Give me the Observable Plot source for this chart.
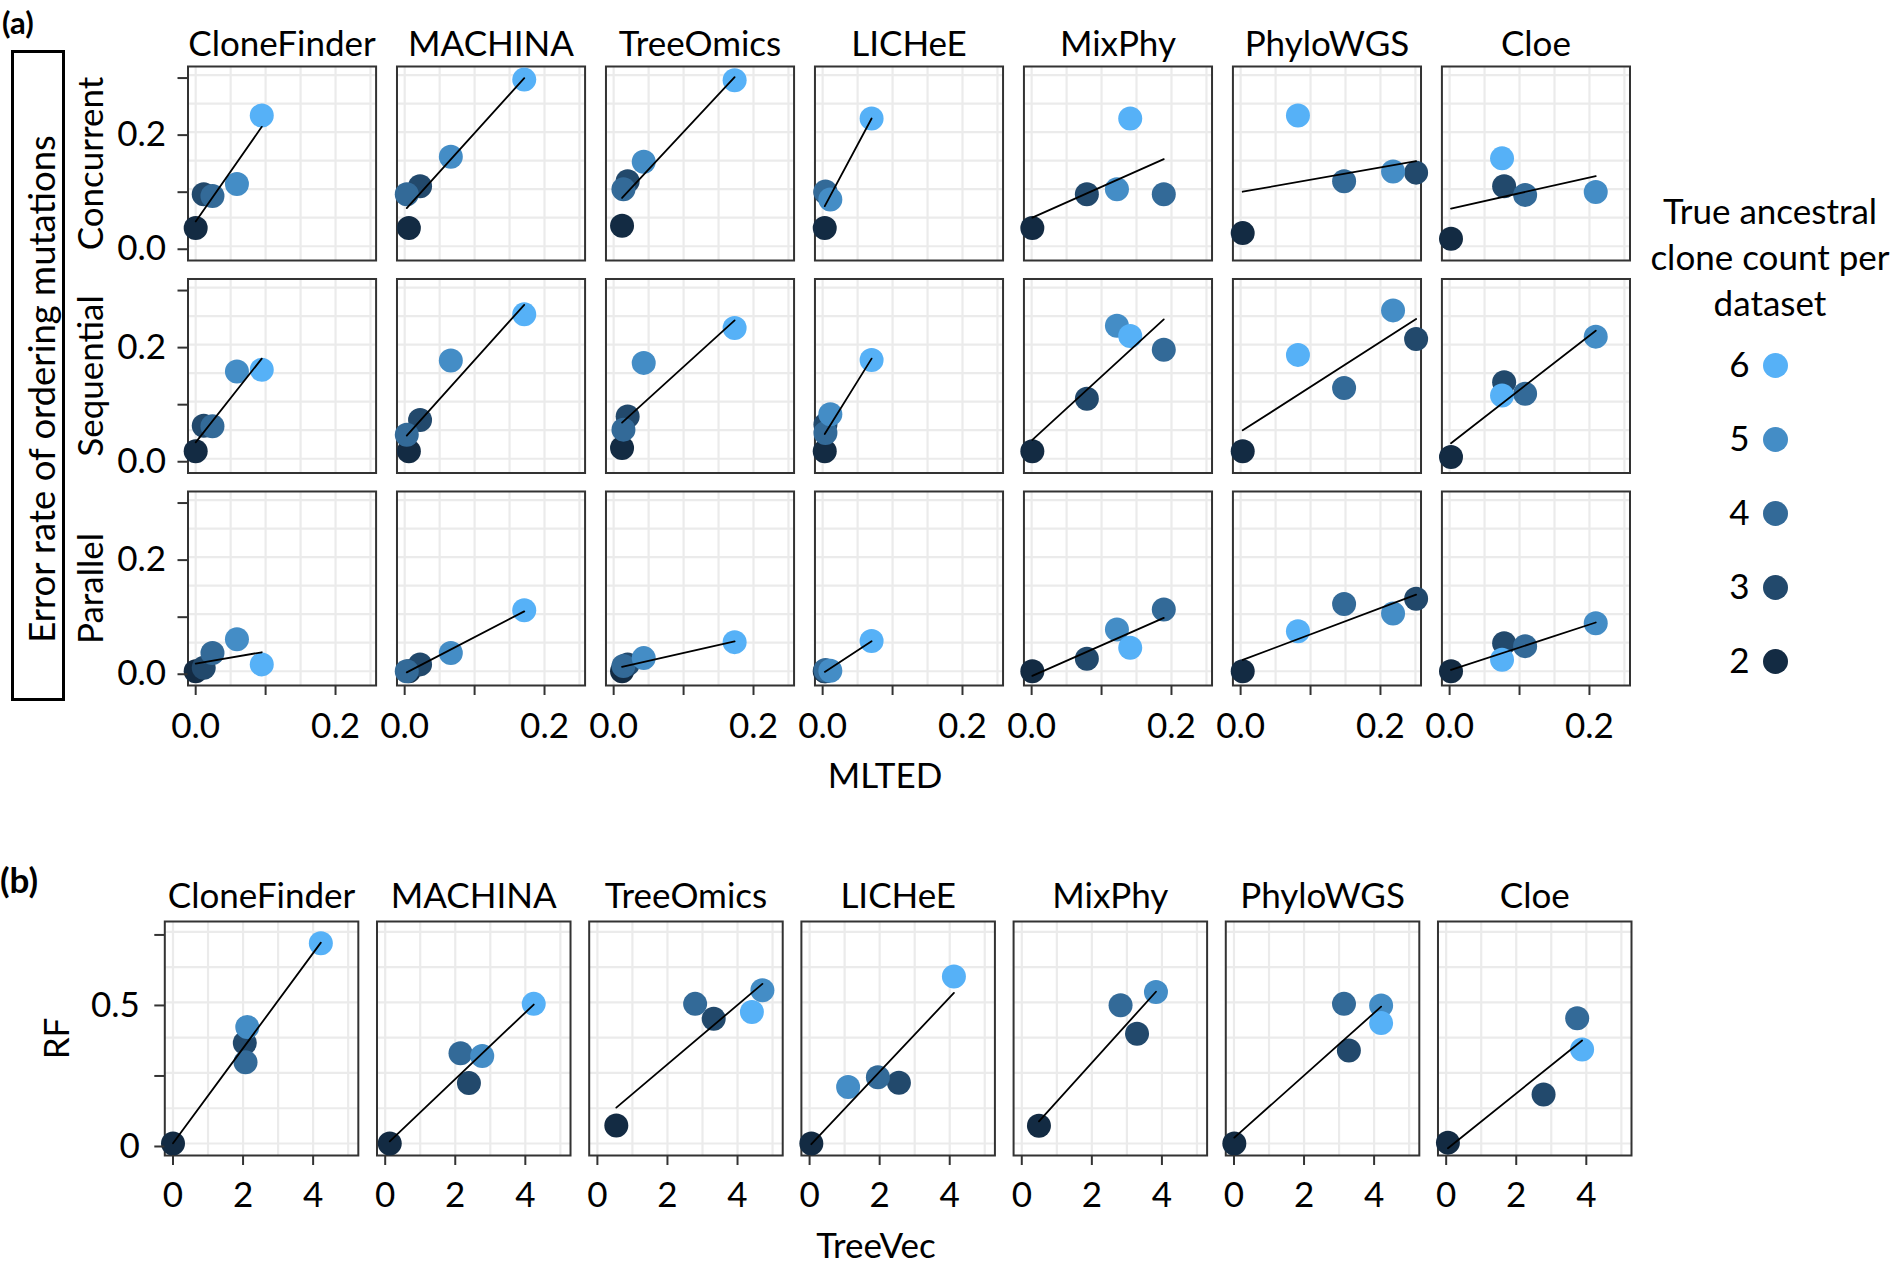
<!DOCTYPE html>
<html><head><meta charset="utf-8">
<script src="https://cdn.jsdelivr.net/npm/d3@7"></script>
<script src="https://cdn.jsdelivr.net/npm/@observablehq/plot@0.6"></script>
<style>
body{margin:0;background:#fff;font-family:Lato,sans-serif;}
#wrap{position:relative;width:1893px;height:1266px;overflow:hidden;background:#fff;}
.abs{position:absolute;}
.lbl{font-family:Lato,sans-serif;font-size:35px;line-height:30px;color:#000;white-space:nowrap;}
</style></head><body><div id="wrap"></div>
<script>
const methods = ["CloneFinder","MACHINA","TreeOmics","LICHeE","MixPhy","PhyloWGS","Cloe"];
const orderTypes = ["Concurrent","Sequential","Parallel"];
const cloneCounts = [2,3,4,5,6];
const legendCounts = [6,5,4,3,2];

// MLTED per method (rows) for clone counts 2..6 (columns)
const mlted = [
  [0.000, 0.0115, 0.024, 0.059, 0.0945],
  [0.006, 0.022, 0.003, 0.066, 0.171],
  [0.012, 0.020, 0.014, 0.043, 0.173],
  [0.003, 0.004, 0.004, 0.011, 0.070],
  [0.001, 0.079, 0.189, 0.122, 0.141],
  [0.003, 0.251, 0.148, 0.218, 0.082],
  [0.002, 0.078, 0.108, 0.209, 0.075]
];
const errConcurrent = [
  [0.032, 0.091, 0.088, 0.109, 0.229],
  [0.032, 0.105, 0.091, 0.157, 0.292],
  [0.036, 0.114, 0.100, 0.148, 0.291],
  [0.032, 0.094, 0.096, 0.082, 0.224],
  [0.032, 0.091, 0.091, 0.100, 0.224],
  [0.023, 0.129, 0.114, 0.131, 0.229],
  [0.013, 0.105, 0.090, 0.095, 0.154]
];
const errSequential = [
  [0.013, 0.058, 0.057, 0.153, 0.156],
  [0.013, 0.068, 0.042, 0.172, 0.253],
  [0.019, 0.074, 0.051, 0.168, 0.229],
  [0.013, 0.060, 0.045, 0.078, 0.173],
  [0.013, 0.105, 0.191, 0.233, 0.215],
  [0.013, 0.210, 0.124, 0.260, 0.182],
  [0.003, 0.134, 0.114, 0.214, 0.111]
];
const errParallel = [
  [0.000, 0.006, 0.032, 0.056, 0.012],
  [0.000, 0.012, 0.000, 0.032, 0.107],
  [0.000, 0.012, 0.009, 0.023, 0.051],
  [0.000, 0.000, 0.002, 0.001, 0.053],
  [0.000, 0.022, 0.108, 0.073, 0.041],
  [0.000, 0.127, 0.118, 0.101, 0.070],
  [0.000, 0.049, 0.044, 0.084, 0.020]
];
// panel (b)
const treeVec = [
  [0.00, 2.05, 2.07, 2.12, 4.22],
  [0.13, 2.39, 2.15, 2.77, 4.24],
  [0.54, 3.32, 2.79, 4.71, 4.41],
  [0.05, 2.55, 1.95, 1.10, 4.12],
  [0.49, 3.29, 2.82, 3.83, null],
  [0.01, 3.28, 3.14, 4.20, 4.20],
  [0.05, 2.78, 3.74, null, 3.88]
];
const rfDist = [
  [0.000, 0.356, 0.288, 0.413, 0.710],
  [0.000, 0.214, 0.320, 0.310, 0.495],
  [0.064, 0.442, 0.495, 0.543, 0.466],
  [0.000, 0.215, 0.235, 0.200, 0.592],
  [0.063, 0.389, 0.490, 0.537, null],
  [0.000, 0.330, 0.495, 0.489, 0.427],
  [0.003, 0.174, 0.444, null, 0.333]
];

// ticks
const xTicksA = [0, 0.1, 0.2];
const xTickLabelsA = ["0.0", "", "0.2"];
const yTicksA = [0, 0.1, 0.2, 0.3];
const yTickLabelsA = ["0.0", "", "0.2", ""];
const xGridA = [0, 0.05, 0.1, 0.15, 0.2, 0.25];
const yGridA = [0, 0.05, 0.1, 0.15, 0.2, 0.25, 0.3];
const xTicksB = [0, 2, 4];
const xTickLabelsB = ["0", "2", "4"];
const yTicksB = [0, 0.25, 0.5, 0.75];
const yTickLabelsB = ["0", "", "0.5", ""];
const xGridB = [0, 1, 2, 3, 4, 5];
const yGridB = [0, 0.125, 0.25, 0.375, 0.5, 0.625, 0.75];

const colorSpec = {type: "linear", domain: [2, 6], range: ["#132B43", "#56B1F7"], interpolate: "lab"};
const FONT = "Lato, sans-serif";
const FS = 35;
const gridStyle = {stroke: "#EBEBEB", strokeOpacity: 1, strokeWidth: 2.2};

// build tables
const errByType = [errConcurrent, errSequential, errParallel];
const rowsA = [];
orderTypes.forEach((t, ti) => methods.forEach((m, mi) => cloneCounts.forEach((c, ci) => {
  rowsA.push({method: m, type: t, count: c, mlted: mlted[mi][ci], error: errByType[ti][mi][ci]});
})));
const rowsB = [];
methods.forEach((m, mi) => cloneCounts.forEach((c, ci) => {
  if (treeVec[mi][ci] != null) rowsB.push({method: m, count: c, treevec: treeVec[mi][ci], rf: rfDist[mi][ci]});
}));

const wrap = document.getElementById("wrap");
function place(node, left, top) {
  const d = document.createElement("div");
  d.className = "abs"; d.style.left = left + "px"; d.style.top = top + "px";
  d.appendChild(node); wrap.appendChild(d); return d;
}
function label(text, left, top, extra) {
  const d = document.createElement("div");
  d.className = "abs lbl"; d.textContent = text;
  d.style.left = left + "px"; d.style.top = top + "px";
  Object.assign(d.style, extra || {});
  wrap.appendChild(d); return d;
}

// ---------- panel (a)
const mlA = 187.5, mtA = 66;
const plotA = Plot.plot({
  width: mlA + 1442 + 10, height: mtA + 619 + 60,
  marginLeft: mlA, marginTop: mtA, marginRight: 10, marginBottom: 60,
  style: {fontFamily: FONT, fontSize: FS + "px", color: "#000", background: "transparent"},
  fx: {domain: methods, paddingInner: 0.1, paddingOuter: 0, round: false},
  fy: {domain: orderTypes, paddingInner: 0.087, paddingOuter: 0, round: false, axis: null},
  x: {domain: [-0.011, 0.258]},
  y: {domain: [-0.025, 0.315]},
  color: colorSpec,
  marks: [
    Plot.gridX(xGridA, gridStyle),
    Plot.gridY(yGridA, gridStyle),
    Plot.frame({stroke: "#333", strokeWidth: 2}),
    Plot.dot(rowsA, {x: "mlted", y: "error", fx: "method", fy: "type", fill: "count", r: 12}),
    Plot.linearRegressionY(rowsA, {x: "mlted", y: "error", fx: "method", fy: "type", stroke: "black", strokeWidth: 1.8, ci: 0}),
    Plot.axisX({ticks: xTicksA, tickFormat: d => xTickLabelsA[xTicksA.indexOf(d)], tickSize: 10, tickPadding: 18, stroke: "#333", strokeWidth: 2, fill: "black", fontSize: FS, label: null}),
    Plot.axisY({ticks: yTicksA, tickFormat: d => yTickLabelsA[yTicksA.indexOf(d)], tickSize: 10, tickPadding: 12, dy: 3, stroke: "#333", strokeWidth: 2, fill: "black", fontSize: FS, label: null}),
    Plot.axisFx({anchor: "top", tickSize: 0, tickPadding: 11, fill: "black", fontSize: FS, label: null}),
    Plot.text(orderTypes, {fy: d => d, fx: () => methods[0], text: d => d, frameAnchor: "left", dx: -96, rotate: -90, textAnchor: "middle", lineAnchor: "middle", fill: "black", fontSize: FS})
  ]
});
place(plotA, 0, 0);

// ---------- panel (b)
const topB = 850, mlB = 164.3, mtB = 71;
const plotB = Plot.plot({
  width: mlB + 1466.7 + 10, height: mtB + 234 + 70,
  marginLeft: mlB, marginTop: mtB, marginRight: 10, marginBottom: 70,
  style: {fontFamily: FONT, fontSize: FS + "px", color: "#000", background: "transparent"},
  fx: {domain: methods, paddingInner: 0.088, paddingOuter: 0, round: false},
  x: {domain: [-0.234, 5.29]},
  y: {domain: [-0.0426, 0.787]},
  color: colorSpec,
  marks: [
    Plot.gridX(xGridB, gridStyle),
    Plot.gridY(yGridB, gridStyle),
    Plot.frame({stroke: "#333", strokeWidth: 2}),
    Plot.dot(rowsB, {x: "treevec", y: "rf", fx: "method", fill: "count", r: 12}),
    Plot.linearRegressionY(rowsB, {x: "treevec", y: "rf", fx: "method", stroke: "black", strokeWidth: 1.8, ci: 0}),
    Plot.axisX({ticks: xTicksB, tickFormat: d => xTickLabelsB[xTicksB.indexOf(d)], tickSize: 10, tickPadding: 17, stroke: "#333", strokeWidth: 2, fill: "black", fontSize: FS, label: null}),
    Plot.axisY({ticks: yTicksB, tickFormat: d => yTickLabelsB[yTicksB.indexOf(d)], tickSize: 10, tickPadding: 15, dy: 3, stroke: "#333", strokeWidth: 2, fill: "black", fontSize: FS, label: null}),
    Plot.axisFx({anchor: "top", tickSize: 0, tickPadding: 14, fill: "black", fontSize: FS, label: null}),
    Plot.text(["RF"], {fx: () => methods[0], text: d => d, frameAnchor: "left", dx: -107, rotate: -90, textAnchor: "middle", lineAnchor: "middle", fill: "black", fontSize: FS})
  ]
});
place(plotB, 0, topB);

// ---------- legend
const legTop = 330;
const legend = Plot.plot({
  width: 253, height: 360, margin: 0,
  style: {fontFamily: FONT, fontSize: FS + "px", color: "#000", background: "transparent"},
  y: {type: "point", domain: legendCounts, range: [364 - legTop, 662 - legTop], padding: 0, axis: null},
  color: colorSpec,
  marks: [
    Plot.dot(legendCounts, {y: d => d, fill: d => d, r: 12.5, frameAnchor: "left", dx: 1775 - 1640}),
    Plot.text(legendCounts, {y: d => d, text: d => String(d), frameAnchor: "left", dx: 1749 - 1640, textAnchor: "end", lineAnchor: "middle", fill: "black", fontSize: FS})
  ]
});
place(legend, 1640, legTop);

// ---------- titles & labels (line-height 30px: baseline = top + 28.5)
label("(a)", 2, 6, {fontWeight: "700", fontSize: "31px", lineHeight: "32px"});
label("(b)", 0, 864, {fontWeight: "700"});
label("MLTED", 735, 759, {width: "300px", textAlign: "center"});
label("TreeVec", 726, 1229, {width: "300px", textAlign: "center"});
const lt = label("", 1640, 187, {width: "260px", textAlign: "center", lineHeight: "46px"});
lt.innerHTML = "True ancestral<br>clone count per<br>dataset";

// boxed y label for (a)
const box = document.createElement("div");
box.className = "abs";
Object.assign(box.style, {left: "11px", top: "50px", width: "48px", height: "645px", border: "3px solid #000"});
const yl = document.createElement("div");
yl.className = "abs lbl";
yl.textContent = "Error rate of ordering mutations";
Object.assign(yl.style, {left: "27px", top: "336px", fontSize: "36.5px", lineHeight: "40px", transform: "translate(-50%,-50%) rotate(-90deg)"});
box.appendChild(yl);
wrap.appendChild(box);
</script>
</body></html>
